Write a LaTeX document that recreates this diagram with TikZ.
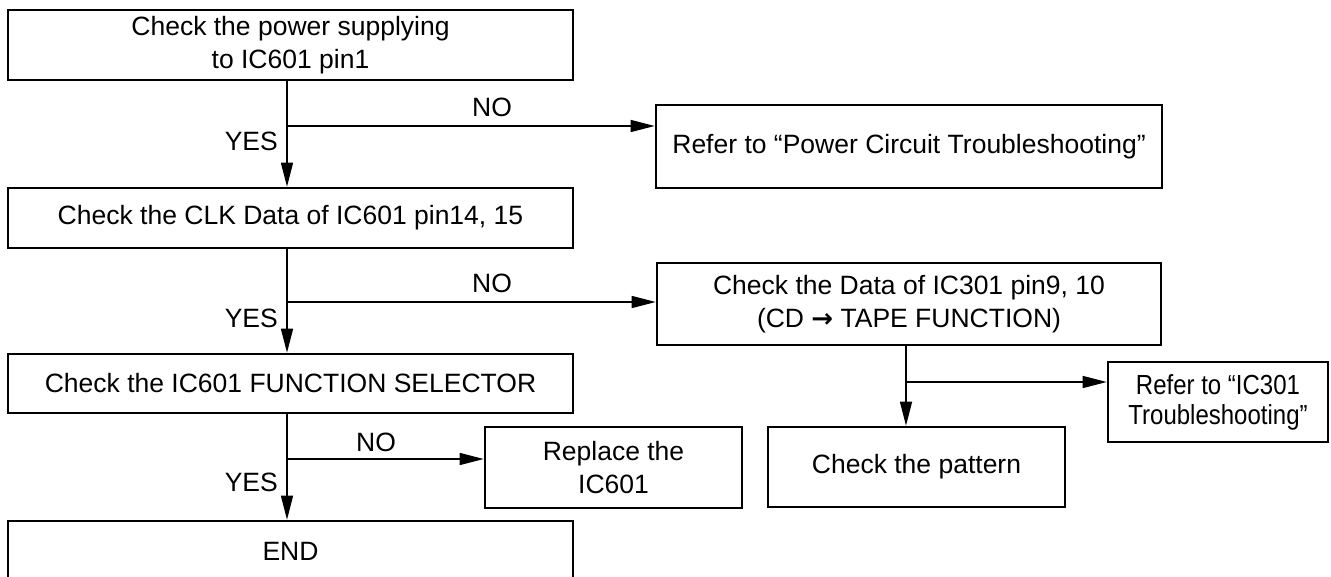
\documentclass[tikz,border=0pt]{standalone}
\usepackage{fontspec}
\setmainfont{Liberation Sans}
\newfontfamily\symfont{DejaVu Sans}
\usetikzlibrary{arrows.meta}
\begin{document}
\begin{tikzpicture}[x=1pt,y=-1pt,
  box/.style={draw, line width=2.6pt, inner sep=0pt, align=center,
    font=\fontsize{26.5}{33}\selectfont},
  arr/.style={line width=1.4pt, -{Triangle[length=24pt,width=12pt]}},
  lbl/.style={inner sep=0pt, font=\fontsize{26.5}{33}\selectfont}]
\useasboundingbox (0,0) rectangle (1331,577);
\clip (0,0) rectangle (1331,577);
% boxes
\node[box, minimum width=565pt, minimum height=70pt] (b1) at (290.5,45) {Check the power supplying\\to IC601 pin1};
\node[box, minimum width=506pt, minimum height=83pt] (pw) at (909,146.5) {Refer to “Power Circuit Troubleshooting”};
\node[box, minimum width=565pt, minimum height=60pt] (b2) at (290.5,218) {Check the CLK Data of IC601 pin14, 15};
\node[box, minimum width=504pt, minimum height=82pt] (d3) at (909,304) {Check the Data of IC301 pin9, 10\\(CD {\symfont\bfseries\fontsize{26}{33}\selectfont\char"2192} TAPE FUNCTION)};
\node[box, minimum width=220pt, minimum height=80pt, font=\fontsize{24}{30}\selectfont] (r3) at (1218,402) {\scalebox{1}[1.15]{Refer to “IC301}\\\scalebox{1}[1.15]{Troubleshooting”}};
\node[box, minimum width=297pt, minimum height=80pt] (pt) at (916.5,467) {Check the pattern};
\node[box, minimum width=565pt, minimum height=59pt] (b3) at (290.5,383.5) {Check the IC601 FUNCTION SELECTOR};
\node[box, minimum width=257pt, minimum height=81pt] (rp) at (613.5,467.5) {Replace the\\IC601};
\node[box, minimum width=565pt, minimum height=60pt] (en) at (290.5,551) {END};
% junctions
\coordinate (v) at (287,0);
\coordinate (j1) at (287,126);
\coordinate (j2) at (287,302);
\coordinate (j3) at (287,459);
\coordinate (w) at (906,0);
\coordinate (j4) at (906,382);
% connectors
\draw[arr] (b1.south -| v) -- (b2.north -| v);
\draw[arr] (j1) -- (j1 -| pw.west);
\draw[arr] (b2.south -| v) -- (b3.north -| v);
\draw[arr] (j2) -- (j2 -| d3.west);
\draw[arr] (b3.south -| v) -- (en.north -| v);
\draw[arr] (j3) -- (j3 -| rp.west);
\draw[arr] (d3.south -| w) -- (pt.north -| w);
\draw[arr] (j4) -- (j4 -| r3.west);
% labels
\node[lbl] (no1) at (492,107) {NO};
\node[lbl, anchor=east] (ye1) at (278,141) {YES};
\node[lbl] (no2) at (492,283) {NO};
\node[lbl, anchor=east] (ye2) at (278,318) {YES};
\node[lbl] (no3) at (376,442) {NO};
\node[lbl, anchor=east] (ye3) at (278,482) {YES};
\end{tikzpicture}
\end{document}
